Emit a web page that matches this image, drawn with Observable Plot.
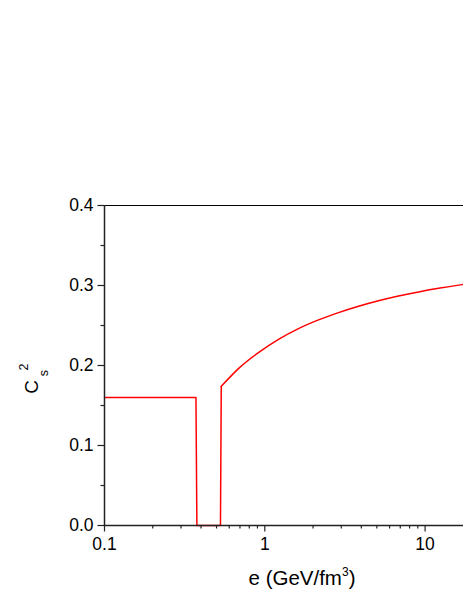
<!DOCTYPE html>
<html><head><meta charset="utf-8">
<script src="https://cdn.jsdelivr.net/npm/d3@7"></script>
<script src="https://cdn.jsdelivr.net/npm/@observablehq/plot@0.6"></script>
<style>body{margin:0;background:#fff} svg{display:block}</style>
</head><body><div id="chart"></div>
<script>
// Step part of the sound-speed curve
const stepE = [0.1, 0.372, 0.377, 0.529, 0.535];
const stepC = [0.16, 0.16, 0, 0, 0.1739];
// Smooth rising part
const curveE = [0.535, 0.685, 0.913, 1.218, 1.622, 2.163, 2.883, 3.842, 5.120, 6.824, 9.095, 12.12, 16.94, 17.36];
const curveC = [0.1739, 0.1961, 0.2161, 0.2327, 0.2461, 0.2570, 0.2661, 0.2741, 0.2810, 0.2869, 0.2920, 0.2965, 0.3011, 0.3014];

const xMajor = [0.1, 1, 10];
const xMajorLabels = ["0.1", "1", "10"];
const xMinor = [0.2, 0.3, 0.4, 0.5, 0.6, 0.7, 0.8, 0.9, 2, 3, 4, 5, 6, 7, 8, 9];
const yMajor = [0, 0.1, 0.2, 0.3, 0.4];
const yMajorLabels = ["0.0", "0.1", "0.2", "0.3", "0.4"];
const yMinor = [0.05, 0.15, 0.25, 0.35];

const xDomain = [0.1, 17.36];
const yDomain = [0, 0.4];

const step = stepE.map((e, i) => ({e, c: stepC[i]}));
const curve = curveE.map((e, i) => ({e, c: curveC[i]}));

const axisColor = "#222";
const font = "'Liberation Sans', Arial, sans-serif";

const chart = Plot.plot({
  width: 463,
  height: 599,
  marginLeft: 104,
  marginRight: 0,
  marginTop: 205,
  marginBottom: 74,
  style: {fontFamily: font, background: "#fff", color: "#000"},
  x: {type: "log", domain: xDomain},
  y: {domain: yDomain},
  marks: [
    Plot.ruleY([0.4], {stroke: "#000", strokeWidth: 1.2}),
    Plot.line(step, {x: "e", y: "c", stroke: "#ff0000", strokeWidth: 1.5}),
    Plot.line(curve, {x: "e", y: "c", stroke: "#ff0000", strokeWidth: 1.5, curve: "monotone-x"}),
    Plot.axisX(xMajor, {tickSize: 6.5, tickPadding: 6, fontSize: 17.5, stroke: axisColor, strokeWidth: 1.2,
      tickFormat: (d) => xMajorLabels[xMajor.indexOf(d)], label: null}),
    Plot.axisX(xMinor, {tickSize: 3.5, tickFormat: () => "", stroke: axisColor, strokeWidth: 1.2, label: null}),
    Plot.axisY(yMajor, {tickSize: 6.5, tickPadding: 4.5, fontSize: 17.5, stroke: axisColor, strokeWidth: 1.2,
      tickFormat: (d) => yMajorLabels[yMajor.indexOf(d)], label: null}),
    Plot.axisY(yMinor, {tickSize: 3.5, tickFormat: () => "", stroke: axisColor, strokeWidth: 1.2, label: null}),
    Plot.ruleY([0], {stroke: axisColor, strokeWidth: 1.5}),
    Plot.ruleX([0.1], {stroke: axisColor, strokeWidth: 1.5})
  ]
});
document.getElementById("chart").appendChild(chart);

const svg = d3.select(chart);
// x-axis title
const xt = svg.append("text")
  .attr("x", 302).attr("y", 585)
  .attr("text-anchor", "middle")
  .attr("font-family", font).attr("font-size", 20.5).attr("fill", "#000");
xt.append("tspan").text("e (GeV/fm");
xt.append("tspan").attr("dy", -9).attr("font-size", 12).text("3");
xt.append("tspan").attr("dy", 9).text(")");

// y-axis title, rotated
const g = svg.append("g").attr("transform", "translate(38,387) rotate(-90)")
  .attr("font-family", font).attr("fill", "#000");
g.append("text").attr("x", 0).attr("y", 0).attr("font-size", 19).text("C");
g.append("text").attr("x", 14).attr("y", 10).attr("font-size", 12.5).text("s");
g.append("text").attr("x", 20).attr("y", -10).attr("font-size", 12.5).text("2");
</script>
</body></html>
